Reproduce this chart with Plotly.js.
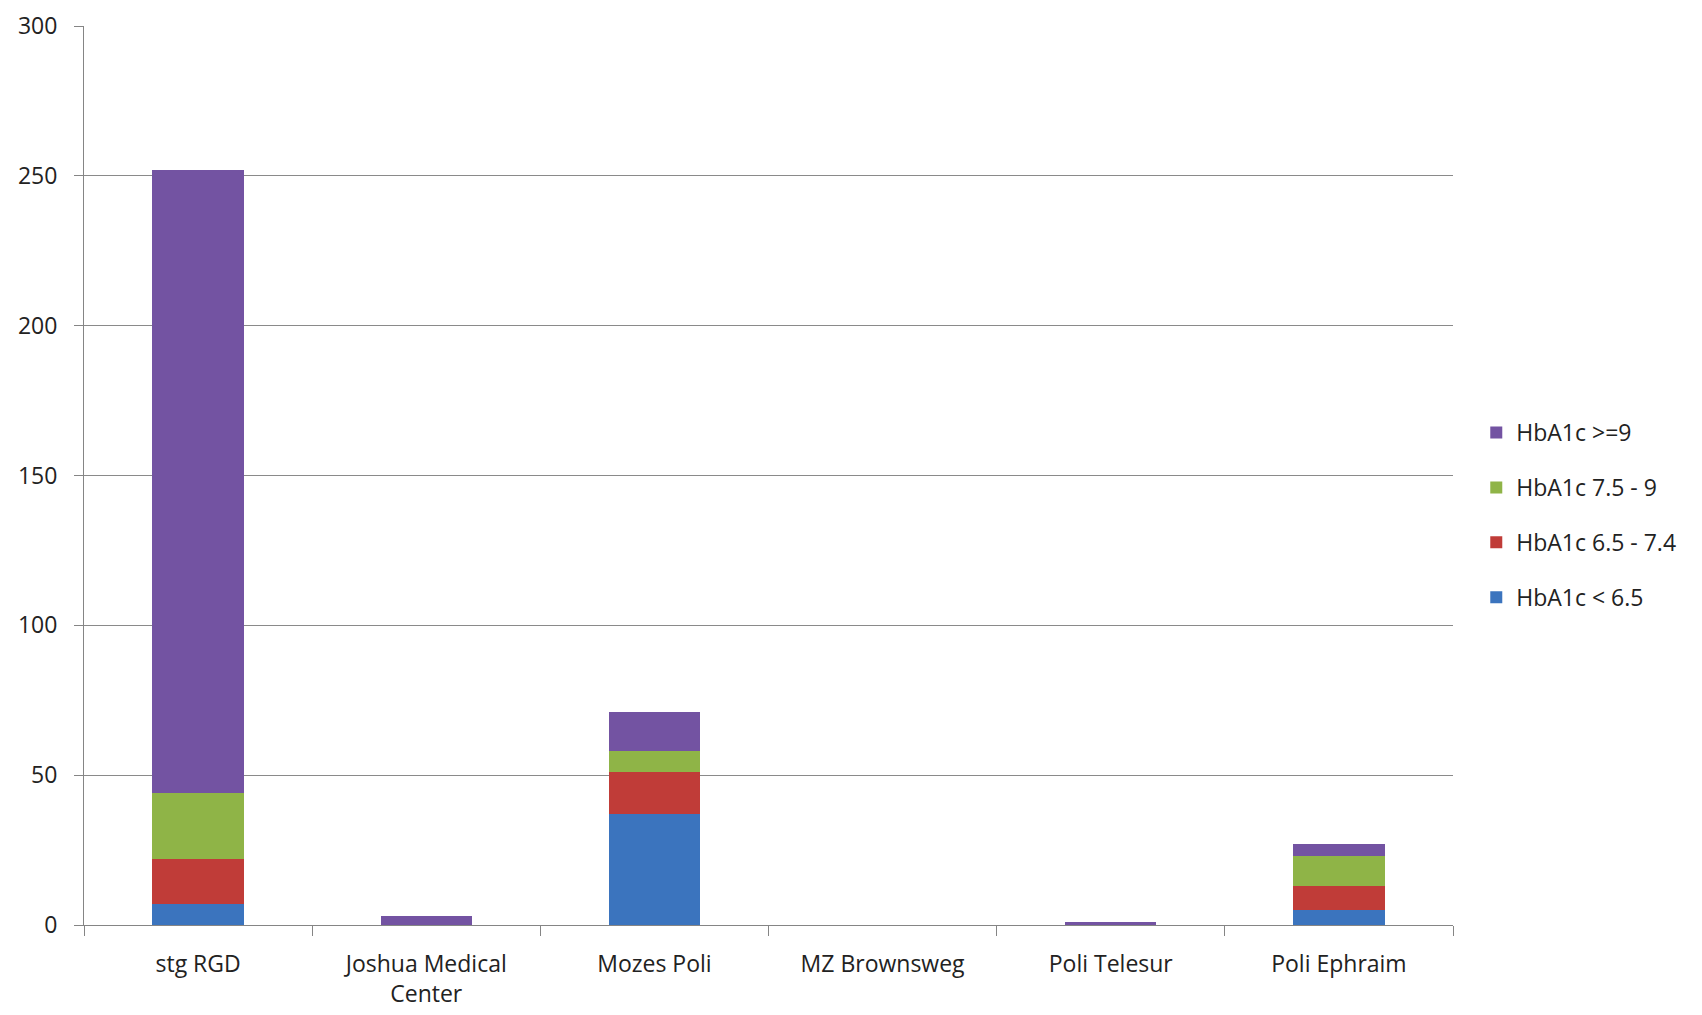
<!DOCTYPE html>
<html>
<head>
<meta charset="utf-8">
<script src="https://cdn.plot.ly/plotly-3.0.1.min.js"></script>
<style>html,body{margin:0;padding:0;background:#fff;}#chart{width:1702px;height:1015px;}</style>
</head>
<body>
<div id="chart"></div>
<script>
const categories = ["stg RGD", "Joshua Medical<br>Center", "Mozes Poli", "MZ Brownsweg", "Poli Telesur", "Poli Ephraim"];
const below65 = [7, 0, 37, 0, 0, 5];
const from65to74 = [15, 0, 14, 0, 0, 8];
const from75to9 = [22, 0, 7, 0, 0, 10];
const atLeast9 = [208, 3, 13, 0, 1, 4];
const seriesNames = ["HbA1c < 6.5", "HbA1c 6.5 - 7.4", "HbA1c 7.5 - 9", "HbA1c >=9"];
const yTicks = [0, 50, 100, 150, 200, 250, 300];

const colors = ["#3b74be", "#c03c38", "#8fb447", "#7353a2"];
const seriesValues = [below65, from65to74, from75to9, atLeast9];

const traces = seriesValues.map((vals, i) => ({
  type: 'bar',
  x: categories,
  y: vals,
  name: seriesNames[i],
  legendgroup: 'g' + i,
  legendrank: 10 - i,
  marker: {color: colors[i], line: {width: 0}},
  hoverinfo: 'x+y+name'
}));

const fontFam = 'Open Sans, Noto Sans, sans-serif';
const layout = {
  width: 1702,
  height: 1015,
  margin: {l: 84, r: 249, t: 26, b: 90},
  paper_bgcolor: '#ffffff',
  plot_bgcolor: '#ffffff',
  barmode: 'stack',
  bargap: 0.6,
  font: {family: fontFam, size: 23, color: '#222222'},
  showlegend: true,
  legend: {
    x: 1.017, xanchor: 'left',
    y: 0.456, yanchor: 'middle',
    traceorder: 'grouped',
    tracegroupgap: 22,
    font: {family: fontFam, size: 23, color: '#222222'},
    bgcolor: 'rgba(0,0,0,0)'
  },
  xaxis: {
    type: 'category',
    showline: true,
    linecolor: '#858585',
    linewidth: 1,
    ticks: 'outside',
    tickson: 'boundaries',
    ticklen: 10,
    tickcolor: '#858585',
    showgrid: false,
    zeroline: false,
    ticklabelstandoff: 18,
    tickfont: {family: fontFam, size: 23, color: '#222222'}
  },
  yaxis: {
    range: [0, 300],
    tickvals: yTicks,
    ticktext: yTicks.map(String),
    showline: true,
    linecolor: '#858585',
    linewidth: 1,
    ticks: 'outside',
    ticklen: 9,
    tickcolor: '#858585',
    showgrid: true,
    gridcolor: '#8a8a8a',
    gridwidth: 1,
    zeroline: false,
    ticklabelstandoff: 12,
    tickfont: {family: fontFam, size: 23, color: '#222222'}
  }
};

Plotly.newPlot('chart', traces, layout, {displayModeBar: false, staticPlot: true});
</script>
</body>
</html>
